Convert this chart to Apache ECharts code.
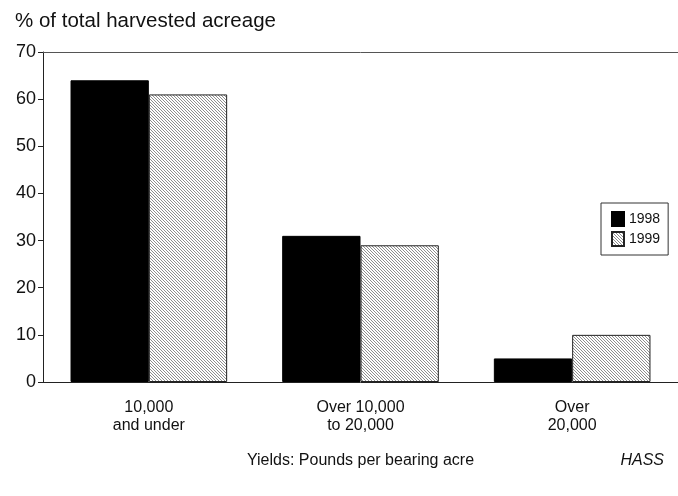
<!DOCTYPE html>
<html>
<head>
<meta charset="utf-8">
<script src="https://cdn.jsdelivr.net/npm/echarts@6/dist/echarts.min.js"></script>
<style>
html,body{margin:0;padding:0;background:#fff;}
#main{width:678px;height:496px;}
</style>
</head>
<body>
<div id="main"></div>
<script>
var categories = ['10,000\nand under', 'Over 10,000\nto 20,000', 'Over\n20,000'];
var values1998 = [64, 31, 5];
var values1999 = [61, 29, 10];
var yTicks = {min: 0, max: 70, interval: 10};

function hatch() {
  var c = document.createElement('canvas');
  c.width = 6; c.height = 6;
  var g = c.getContext('2d');
  g.fillStyle = '#fff';
  g.fillRect(0, 0, 6, 6);
  g.strokeStyle = '#8f8f8f';
  g.lineWidth = 1;
  for (var k = -6; k <= 6; k += 3) {
    g.beginPath();
    g.moveTo(k, 0);
    g.lineTo(k + 6, 6);
    g.stroke();
  }
  return c;
}

var chart = echarts.init(document.getElementById('main'), null, {renderer: 'canvas'});
var font = 'Liberation Sans, Arial, sans-serif';
chart.setOption({
  animation: false,
  backgroundColor: '#fff',
  textStyle: {fontFamily: font, color: '#111'},
  title: {
    text: '% of total harvested acreage',
    left: 10, top: 6,
    textStyle: {fontSize: 20.5, fontWeight: 'normal', color: '#111', fontFamily: font}
  },
  legend: {
    orient: 'vertical',
    left: 601, top: 203,
    width: 66,
    borderColor: '#333', borderWidth: 1,
    padding: [8, 8, 8, 10],
    itemGap: 4,
    itemWidth: 12, itemHeight: 14,
    icon: 'rect',
    textStyle: {fontSize: 14, color: '#111', fontFamily: font},
    data: ['1998', '1999']
  },
  grid: {left: 43, right: -4, top: 52, bottom: 114, containLabel: false},
  xAxis: [{
    type: 'category',
    data: categories,
    position: 'bottom',
    axisLine: {lineStyle: {color: '#222', width: 1}},
    axisTick: {show: false},
    axisLabel: {fontSize: 16, lineHeight: 18, margin: 17, color: '#111', fontFamily: font},
    name: 'Yields: Pounds per bearing acre',
    nameLocation: 'middle',
    nameGap: 71,
    nameTextStyle: {fontSize: 16, color: '#111', fontFamily: font}
  }, {
    type: 'category',
    data: categories,
    position: 'top',
    axisLine: {lineStyle: {color: '#555', width: 1}},
    axisTick: {show: false},
    axisLabel: {show: false}
  }],
  yAxis: {
    type: 'value',
    min: yTicks.min, max: yTicks.max, interval: yTicks.interval,
    axisLine: {show: true, lineStyle: {color: '#222', width: 1}},
    axisTick: {show: true, length: 5, lineStyle: {color: '#222'}},
    splitLine: {show: false},
    axisLabel: {fontSize: 18, margin: 7, color: '#111', fontFamily: font}
  },
  series: [{
    name: '1998', type: 'bar', data: values1998,
    barGap: '0%', barCategoryGap: '26%',
    itemStyle: {color: '#000', borderColor: '#000', borderWidth: 1}
  }, {
    name: '1999', type: 'bar', data: values1999,
    barGap: '0%', barCategoryGap: '26%',
    itemStyle: {color: {image: hatch(), repeat: 'repeat'}, borderColor: '#222', borderWidth: 1}
  }],
  graphic: [{
    type: 'text', right: 14, top: 453,
    style: {text: 'HASS', fontSize: 16, fontStyle: 'italic', fill: '#111', fontFamily: font}
  }]
});
</script>
</body>
</html>
